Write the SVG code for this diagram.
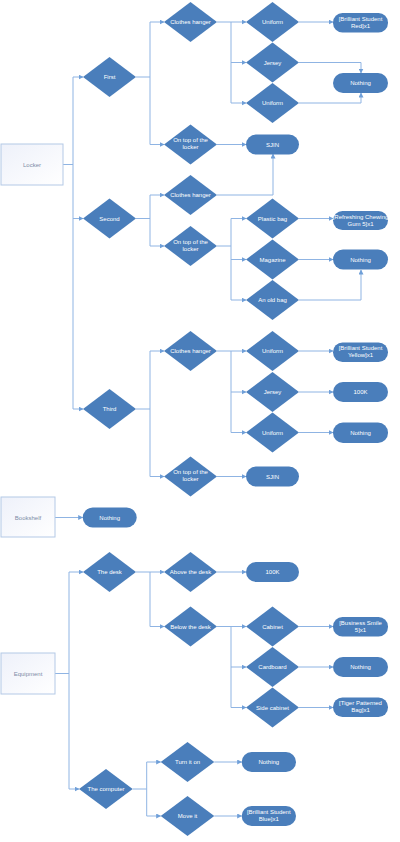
<svg xmlns="http://www.w3.org/2000/svg" width="400" height="842" viewBox="0 0 400 842">
<defs>
<linearGradient id="boxg" x1="0" y1="0" x2="1" y2="1">
<stop offset="0" stop-color="#eef1fa"/>
<stop offset="1" stop-color="#ffffff"/>
</linearGradient>
<marker id="arr" markerWidth="5" markerHeight="5" refX="4.5" refY="2.5" orient="auto" markerUnits="userSpaceOnUse">
<path d="M0,0 L5,2.5 L0,5 Z" fill="#6f9fd8"/>
</marker>
<style>
.c{fill:none;stroke:#8fb4e3;stroke-width:1}
.a{marker-end:url(#arr)}
.d{fill:#4a7ebb}
.t{fill:#4a7ebb}
.b{fill:url(#boxg);stroke:#b4c9e6;stroke-width:1}
text{font-family:"Liberation Sans",Arial,sans-serif;font-size:6px;text-anchor:middle}
.w{fill:#ffffff}
.g{fill:#7d8ca6}
</style>
</defs>
<rect width="400" height="842" fill="#ffffff"/>

<g id="connectors">
<path class="c" d="M63 164.5H73M73 77V409"/>
<path class="c a" d="M73 77H83"/>
<path class="c a" d="M73 218.5H83"/>
<path class="c a" d="M73 409H83"/>
<path class="c" d="M136 77H150M150 22V144.5"/>
<path class="c a" d="M150 22H164"/>
<path class="c a" d="M150 144.5H164"/>
<path class="c" d="M217 22H231M231 22V103"/>
<path class="c a" d="M231 22H246"/>
<path class="c a" d="M231 62.5H246"/>
<path class="c a" d="M231 103H246"/>
<path class="c a" d="M299 22H333"/>
<path class="c a" d="M299 62.5H361V73"/>
<path class="c a" d="M299 103H361V93"/>
<path class="c a" d="M217 144.5H246"/>
<path class="c" d="M136 218.5H150M150 195V246"/>
<path class="c a" d="M150 195H164"/>
<path class="c a" d="M150 246H164"/>
<path class="c a" d="M217 195H273V154"/>
<path class="c" d="M217 246H231M231 218.5V300"/>
<path class="c a" d="M231 218.5H246"/>
<path class="c a" d="M231 259.5H246"/>
<path class="c a" d="M231 300H246"/>
<path class="c a" d="M299 218.5H333"/>
<path class="c a" d="M299 259.5H333"/>
<path class="c a" d="M299 300H361V270"/>
<path class="c" d="M136 409H150M150 351V476.5"/>
<path class="c a" d="M150 351H164"/>
<path class="c a" d="M150 476.5H164"/>
<path class="c" d="M217 351H231M231 351V432.5"/>
<path class="c a" d="M231 351H246"/>
<path class="c a" d="M231 392H246"/>
<path class="c a" d="M231 432.5H246"/>
<path class="c a" d="M299 351H333"/>
<path class="c a" d="M299 392H333"/>
<path class="c a" d="M299 432.5H333"/>
<path class="c a" d="M217 476.5H246"/>
<path class="c a" d="M55 517.5H82.7"/>
<path class="c" d="M55 673.5H69M69 572V789"/>
<path class="c a" d="M69 572H83"/>
<path class="c a" d="M69 789H79"/>
<path class="c" d="M136 572H150M150 572V626.5"/>
<path class="c a" d="M150 572H164"/>
<path class="c a" d="M150 626.5H164"/>
<path class="c a" d="M217 572H246"/>
<path class="c" d="M217 626.5H231M231 626.5V707.5"/>
<path class="c a" d="M231 626.5H246"/>
<path class="c a" d="M231 667H246"/>
<path class="c a" d="M231 707.5H246"/>
<path class="c a" d="M299 626.5H333"/>
<path class="c a" d="M299 667H333"/>
<path class="c a" d="M299 707.5H333"/>
<path class="c" d="M132.7 789H146.7M146.7 762V816"/>
<path class="c a" d="M146.7 762H160.7"/>
<path class="c a" d="M146.7 816H160.7"/>
<path class="c a" d="M214.3 762H241.7"/>
<path class="c a" d="M214.3 816H241.7"/>
</g>

<g id="locker"><rect class="b" x="1" y="144" width="62" height="41"/><text class="g" x="32" y="166.5">Locker</text></g>
<g id="bookshelf"><rect class="b" x="1" y="497" width="54" height="40"/><text class="g" x="28" y="519.5">Bookshelf</text></g>
<g id="equipment"><rect class="b" x="1" y="653" width="54" height="41"/><text class="g" x="28" y="675.5">Equipment</text></g>

<g id="first"><path class="d" d="M83 77L109.5 57L136 77L109.5 97Z"/><text class="w" x="109.5" y="79">First</text></g>
<g id="second"><path class="d" d="M83 218.5L109.5 198.5L136 218.5L109.5 238.5Z"/><text class="w" x="109.5" y="220.5">Second</text></g>
<g id="third"><path class="d" d="M83 409L109.5 389L136 409L109.5 429Z"/><text class="w" x="109.5" y="411">Third</text></g>
<g id="the-desk"><path class="d" d="M83 572L109.5 552L136 572L109.5 592Z"/><text class="w" x="109.5" y="574">The desk</text></g>
<g id="the-computer"><path class="d" d="M79 789L106 769L132.7 789L106 809Z"/><text class="w" x="106" y="791">The computer</text></g>

<g id="clothes-hanger-1"><path class="d" d="M164 22L190.5 2L217 22L190.5 42Z"/><text class="w" x="190.5" y="24">Clothes hanger</text></g>
<g id="on-top-1"><path class="d" d="M164 144.5L190.5 124.5L217 144.5L190.5 164.5Z"/><text class="w" x="190.5" y="142">On top of the</text><text class="w" x="190.5" y="149">locker</text></g>
<g id="clothes-hanger-2"><path class="d" d="M164 195L190.5 175L217 195L190.5 215Z"/><text class="w" x="190.5" y="197">Clothes hanger</text></g>
<g id="on-top-2"><path class="d" d="M164 246L190.5 226L217 246L190.5 266Z"/><text class="w" x="190.5" y="243.5">On top of the</text><text class="w" x="190.5" y="250.5">locker</text></g>
<g id="clothes-hanger-3"><path class="d" d="M164 351L190.5 331L217 351L190.5 371Z"/><text class="w" x="190.5" y="353">Clothes hanger</text></g>
<g id="on-top-3"><path class="d" d="M164 476.5L190.5 456.5L217 476.5L190.5 496.5Z"/><text class="w" x="190.5" y="474">On top of the</text><text class="w" x="190.5" y="481">locker</text></g>
<g id="above-desk"><path class="d" d="M164 572L190.5 552L217 572L190.5 592Z"/><text class="w" x="190.5" y="574">Above the desk</text></g>
<g id="below-desk"><path class="d" d="M164 626.5L190.5 606.5L217 626.5L190.5 646.5Z"/><text class="w" x="190.5" y="628.5">Below the desk</text></g>
<g id="turn-it-on"><path class="d" d="M160.7 762L187.5 742L214.3 762L187.5 782Z"/><text class="w" x="187.5" y="764">Turn it on</text></g>
<g id="move-it"><path class="d" d="M160.7 816L187.5 796L214.3 816L187.5 836Z"/><text class="w" x="187.5" y="818">Move it</text></g>

<g id="uniform-1"><path class="d" d="M246 22L272.5 2L299 22L272.5 42Z"/><text class="w" x="272.5" y="24">Uniform</text></g>
<g id="jersey-1"><path class="d" d="M246 62.5L272.5 42.5L299 62.5L272.5 82.5Z"/><text class="w" x="272.5" y="64.5">Jersey</text></g>
<g id="uniform-2"><path class="d" d="M246 103L272.5 83L299 103L272.5 123Z"/><text class="w" x="272.5" y="105">Uniform</text></g>
<g id="plastic-bag"><path class="d" d="M246 218.5L272.5 198.5L299 218.5L272.5 238.5Z"/><text class="w" x="272.5" y="220.5">Plastic bag</text></g>
<g id="magazine"><path class="d" d="M246 259.5L272.5 239.5L299 259.5L272.5 279.5Z"/><text class="w" x="272.5" y="261.5">Magazine</text></g>
<g id="old-bag"><path class="d" d="M246 300L272.5 280L299 300L272.5 320Z"/><text class="w" x="272.5" y="302">An old bag</text></g>
<g id="uniform-3"><path class="d" d="M246 351L272.5 331L299 351L272.5 371Z"/><text class="w" x="272.5" y="353">Uniform</text></g>
<g id="jersey-2"><path class="d" d="M246 392L272.5 372L299 392L272.5 412Z"/><text class="w" x="272.5" y="394">Jersey</text></g>
<g id="uniform-4"><path class="d" d="M246 432.5L272.5 412.5L299 432.5L272.5 452.5Z"/><text class="w" x="272.5" y="434.5">Uniform</text></g>
<g id="cabinet"><path class="d" d="M246 626.5L272.5 606.5L299 626.5L272.5 646.5Z"/><text class="w" x="272.5" y="628.5">Cabinet</text></g>
<g id="cardboard"><path class="d" d="M246 667L272.5 647L299 667L272.5 687Z"/><text class="w" x="272.5" y="669">Cardboard</text></g>
<g id="side-cabinet"><path class="d" d="M246 707.5L272.5 687.5L299 707.5L272.5 727.5Z"/><text class="w" x="272.5" y="709.5">Side cabinet</text></g>

<g id="red"><rect class="t" x="333" y="13" width="55" height="19.5" rx="9.5"/><text class="w" x="360.5" y="20.5">[Brilliant Student</text><text class="w" x="360.5" y="27.5">Red]x1</text></g>
<g id="nothing-1"><rect class="t" x="333" y="73" width="55" height="20" rx="10"/><text class="w" x="360.5" y="85">Nothing</text></g>
<g id="sjin-1"><rect class="t" x="246" y="134.5" width="53" height="20" rx="10"/><text class="w" x="272.5" y="146.5">SJIN</text></g>
<g id="gum"><rect class="t" x="333" y="211" width="55" height="19" rx="9.5"/><text class="w" x="360.5" y="218.5">[Refreshing Chewing</text><text class="w" x="360.5" y="225.5">Gum 5]x1</text></g>
<g id="nothing-2"><rect class="t" x="333" y="249.5" width="55" height="20" rx="10"/><text class="w" x="360.5" y="261.5">Nothing</text></g>
<g id="yellow"><rect class="t" x="333" y="342.5" width="55" height="19.5" rx="9.5"/><text class="w" x="360.5" y="350">[Brilliant Student</text><text class="w" x="360.5" y="357">Yellow]x1</text></g>
<g id="k100-1"><rect class="t" x="333" y="382" width="55" height="20" rx="10"/><text class="w" x="360.5" y="394">100K</text></g>
<g id="nothing-3"><rect class="t" x="333" y="422.5" width="55" height="20.5" rx="10"/><text class="w" x="360.5" y="434.5">Nothing</text></g>
<g id="sjin-2"><rect class="t" x="246" y="466.5" width="53" height="20" rx="10"/><text class="w" x="272.5" y="478.5">SJIN</text></g>
<g id="nothing-4"><rect class="t" x="82.7" y="507.5" width="54" height="20" rx="10"/><text class="w" x="109.7" y="519.5">Nothing</text></g>
<g id="k100-2"><rect class="t" x="246" y="562" width="53" height="20" rx="10"/><text class="w" x="272.5" y="574">100K</text></g>
<g id="smile"><rect class="t" x="333" y="617" width="55" height="19.5" rx="9.5"/><text class="w" x="360.5" y="624.5">[Business Smile</text><text class="w" x="360.5" y="631.5">5]x1</text></g>
<g id="nothing-5"><rect class="t" x="333" y="657" width="55" height="20" rx="10"/><text class="w" x="360.5" y="669">Nothing</text></g>
<g id="tiger"><rect class="t" x="333" y="697.5" width="55" height="19.5" rx="9.5"/><text class="w" x="360.5" y="705">[Tiger Patterned</text><text class="w" x="360.5" y="712">Bag]x1</text></g>
<g id="nothing-6"><rect class="t" x="241.7" y="752" width="54.3" height="20" rx="10"/><text class="w" x="268.8" y="764">Nothing</text></g>
<g id="blue"><rect class="t" x="241.7" y="806" width="54.3" height="20" rx="10"/><text class="w" x="268.8" y="813.5">[Brilliant Student</text><text class="w" x="268.8" y="820.5">Blue]x1</text></g>
</svg>
